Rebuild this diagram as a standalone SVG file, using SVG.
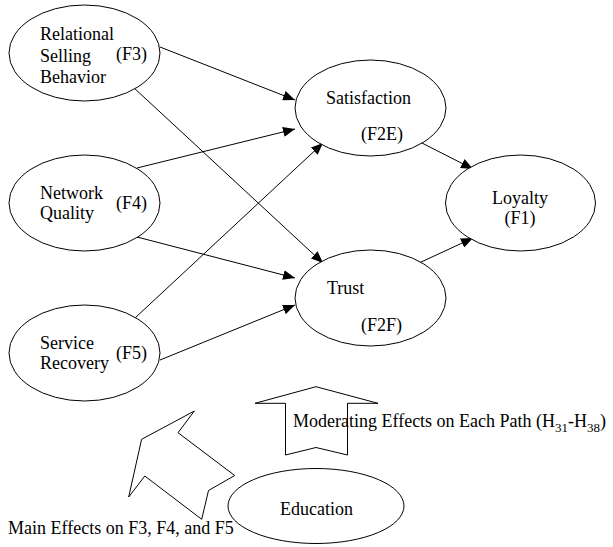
<svg xmlns="http://www.w3.org/2000/svg" width="613" height="547" viewBox="0 0 613 547">
<style>
.n{fill:#fff;stroke:#000;stroke-width:1}
text{font-family:'Liberation Serif',serif;font-size:18px;fill:#000}
.c{stroke:#000;stroke-width:1;fill:none;marker-end:url(#ah)}
.b{fill:#fff;stroke:#000;stroke-width:1}
</style>
<defs>
<marker id="ah" markerUnits="userSpaceOnUse" markerWidth="12" markerHeight="10" viewBox="0 0 12 10" refX="12" refY="5" orient="auto">
<path d="M0,0 L12,5 L0,10 Z" fill="#000"/>
</marker>
</defs>
<rect width="613" height="547" fill="#fff"/>
<g id="connectors">
<line class="c" x1="160" y1="47" x2="295" y2="100"/>
<line class="c" x1="133" y1="87" x2="323" y2="263"/>
<line class="c" x1="137" y1="168" x2="295" y2="129"/>
<line class="c" x1="137" y1="237" x2="295" y2="278"/>
<line class="c" x1="135" y1="318" x2="323" y2="143"/>
<line class="c" x1="160" y1="360" x2="295" y2="305"/>
<line class="c" x1="420" y1="142" x2="473" y2="169"/>
<line class="c" x1="419" y1="263" x2="473" y2="238"/>
</g>
<g font-family="Liberation Serif, serif">
<g id="rsb">
<ellipse class="n" cx="84.5" cy="53" rx="75.5" ry="48"/>
<text x="40" y="40">Relational</text>
<text x="40" y="61.5">Selling</text>
<text x="40" y="83">Behavior</text>
<text x="116" y="60">(F3)</text>
</g>
<g id="network">
<ellipse class="n" cx="84.5" cy="203" rx="75.5" ry="48"/>
<text x="40" y="199">Network</text>
<text x="40" y="219">Quality</text>
<text x="116" y="209">(F4)</text>
</g>
<g id="service">
<ellipse class="n" cx="84.5" cy="353" rx="75.5" ry="48"/>
<text x="40" y="348.5">Service</text>
<text x="40" y="368.5">Recovery</text>
<text x="116" y="358.5">(F5)</text>
</g>
<g id="satisfaction">
<ellipse class="n" cx="370.5" cy="108" rx="75.5" ry="48"/>
<text x="326" y="104">Satisfaction</text>
<text x="361" y="140">(F2E)</text>
</g>
<g id="trust">
<ellipse class="n" cx="370.5" cy="298" rx="75.5" ry="48"/>
<text x="327" y="294">Trust</text>
<text x="361" y="330.5">(F2F)</text>
</g>
<g id="loyalty">
<ellipse class="n" cx="520.5" cy="203" rx="75" ry="48"/>
<text x="520" y="204" text-anchor="middle">Loyalty</text>
<text x="520" y="224" text-anchor="middle">(F1)</text>
</g>
<g id="education">
<ellipse class="n" cx="316" cy="506" rx="88" ry="37.5"/>
<text x="280" y="515">Education</text>
</g>
<g id="main-effects-arrow">
<polygon class="b" points="194.4,411 178,432.7 234.7,475.5 208.5,490.5 201.7,519.3 144.8,476 128.7,497 141.6,439.3"/>
<text x="8" y="534">Main Effects on F3, F4, and F5</text>
</g>
<g id="moderating-arrow">
<polygon class="b" points="316,386.7 378,403.3 347.5,403.3 347.5,455 316,447.5 285.5,455 285.5,403.3 255,403.3"/>
<text x="293" y="427">Moderating Effects on Each Path (H<tspan font-size="13" dy="5">31</tspan><tspan dy="-5">-H</tspan><tspan font-size="13" dy="5">38</tspan><tspan dy="-5">)</tspan></text>
<line x1="347.5" y1="403.3" x2="347.5" y2="455" stroke="#000"/>
</g>
</g>
</svg>
